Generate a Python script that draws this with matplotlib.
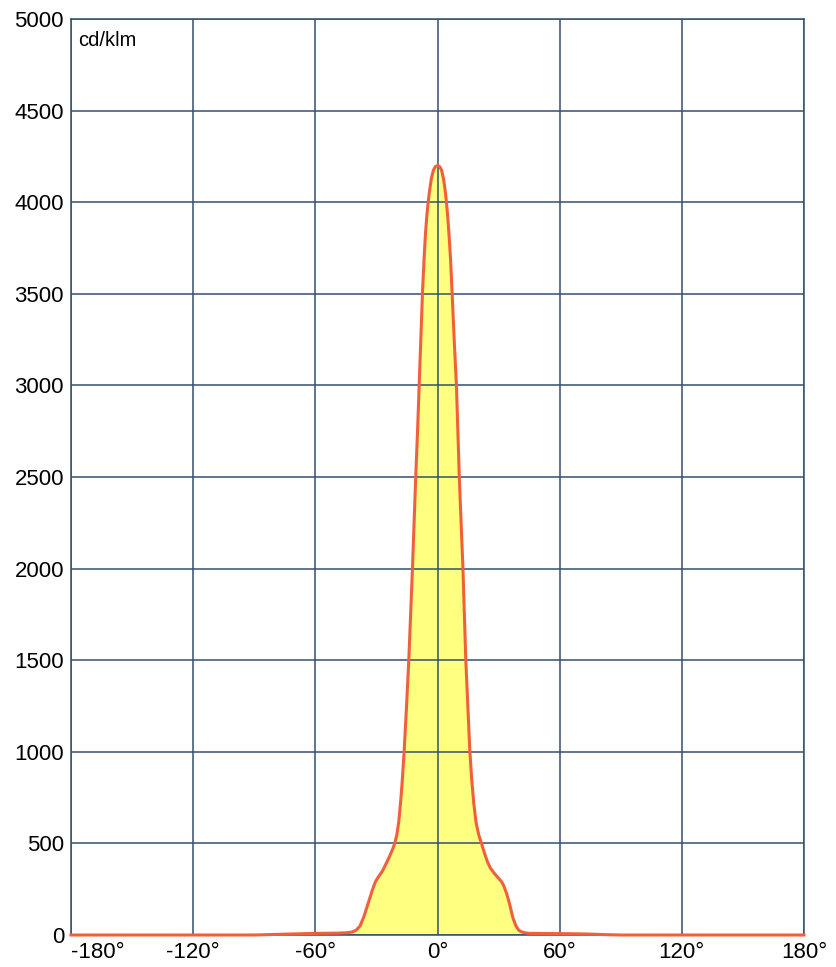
import matplotlib.pyplot as plt

plt.rcParams['font.family'] = ['Liberation Sans', 'DejaVu Sans']

# luminous intensity curve
angles = [-180, -90, -80, -70, -60, -50, -45, -42, -40, -38, -36, -34, -32, -30.5, -29, -27,
          -25, -23.5, -22, -21, -20, -19, -18, -17.2, -16.4, -15.2, -14.1, -13.2, -12.3,
          -11.5, -10.7, -9.8, -9.0, -8.2, -7.4, -6.6, -5.9, -5.2, -4.6, -3.8, -3.0, -2.0, -1.0,
          0, 1.0, 2.0, 3.0, 3.7, 4.4, 5.1, 5.8, 6.5, 7.2, 8.2, 9.3, 10.0, 10.7, 11.6, 12.5,
          13.2, 13.9, 14.9, 15.9, 16.8, 17.8, 19, 20.3, 21.6, 23, 24.5, 26, 28, 30, 31.5, 32.5,
          34, 35.5, 37, 38.5, 40, 41.5, 43, 45, 55, 65, 75, 82, 90, 180]
values = [0, 0, 3, 6, 9, 10, 12, 16, 26, 50, 105, 175, 245, 290, 318, 350,
          395, 430, 470, 500, 545, 620, 740, 860, 1000, 1250, 1500, 1750, 2000,
          2250, 2500, 2750, 3000, 3250, 3500, 3690, 3830, 3930, 4000, 4070, 4130, 4175, 4195,
          4200, 4195, 4175, 4125, 4070, 4000, 3910, 3800, 3670, 3500, 3250, 3000, 2750, 2500, 2250, 2000,
          1750, 1500, 1250, 1000, 850, 720, 610, 545, 500, 450, 400, 365, 335, 310, 290, 270,
          225, 165, 95, 50, 25, 16, 12, 9, 8, 7, 5, 2, 0, 0]

xticks = [-180, -120, -60, 0, 60, 120, 180]
yticks = [0, 500, 1000, 1500, 2000, 2500, 3000, 3500, 4000, 4500, 5000]

grid_col = '#34506f'

fig = plt.figure(figsize=(8.36, 9.67), dpi=100)
ax = fig.add_axes([71 / 836, 32 / 967, 733 / 836, 916 / 967])
ax.fill_between(angles, values, 0, color='#ffff80', lw=0, zorder=1)
ax.plot(angles, values, color='#f0603c', lw=2.2, zorder=3, clip_on=False,
        solid_joinstyle='round')

ax.set_xlim(-180, 180)
ax.set_ylim(0, 5000)
ax.set_xticks(xticks)
ax.set_xticklabels([f'{t}°' for t in xticks])
ax.set_yticks(yticks)
ax.tick_params(length=0, labelsize=16, pad=5)
ax.get_xticklabels()[0].set_horizontalalignment('left')
ax.grid(True, color=grid_col, lw=1.1, zorder=2)
ax.set_axisbelow(False)
for s in ax.spines.values():
    s.set_color(grid_col)
    s.set_linewidth(1.1)
ax.text(0.01, 0.987, 'cd/klm', transform=ax.transAxes, ha='left', va='top', fontsize=14.5)

fig.savefig('out.png', dpi=100)
plt.close()
